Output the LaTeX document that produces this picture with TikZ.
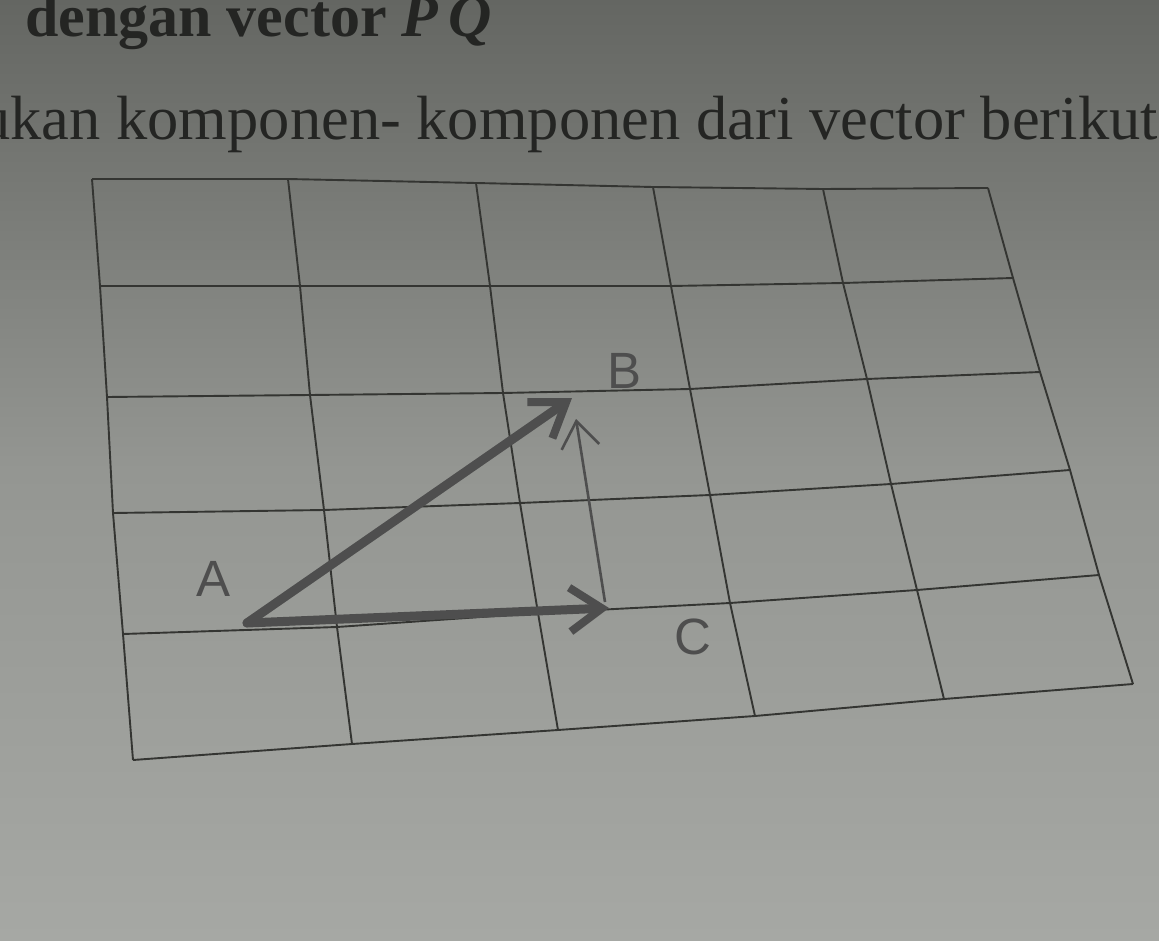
\documentclass[tikz,border=0pt]{standalone}
\usepackage{fontspec}
\setmainfont{Liberation Serif}
\newfontfamily\labelfont{Liberation Sans}
\DeclareMathSizes{60}{60}{44}{34}
\usetikzlibrary{arrows.meta}
\definecolor{paperTop}{RGB}{100,102,98}
\definecolor{paperMid}{RGB}{148,150,146}
\definecolor{paperBot}{RGB}{166,168,164}
\definecolor{ink}{RGB}{36,37,35}
\definecolor{gridink}{RGB}{52,53,50}
\definecolor{vecink}{RGB}{78,78,78}
\tikzset{
  gridline/.style={draw=gridink, line width=1.9pt, line join=round},
  thickvec/.style={draw=vecink, line width=9pt, line cap=round,
    -{Straight Barb[length=32pt,width=44pt,line width=8pt]}},
  thinvec/.style={draw=vecink, line width=2.6pt,
    -{Straight Barb[length=26pt,width=38pt,line width=2.6pt]}},
  ptlabel/.style={font=\labelfont\fontsize{51}{51}\selectfont, text=vecink, inner sep=0pt},
  headone/.style={font=\bfseries\fontsize{60}{60}\selectfont, text=ink, inner sep=0pt},
  headtwo/.style={font=\fontsize{62.5}{62.5}\selectfont, text=ink, inner sep=0pt}
}
\begin{document}
\begin{tikzpicture}[x=1pt,y=-1pt]
\useasboundingbox (0,0) rectangle (1159,941);
\shade[top color=paperTop, bottom color=paperBot, middle color=paperMid] (0,0) rectangle (1159,941);

% header text
\node[headone, anchor=base west] (t1) at (25,37) {dengan vector \textit{P}\,$\overrightarrow{\textit{Q}}$};
\node[headtwo, anchor=base east] (t2) at (1158,140) {ukan komponen- komponen dari vector berikut};

% lattice points p-row-col
\coordinate (p-0-0) at (92,179);  \coordinate (p-0-1) at (288,179); \coordinate (p-0-2) at (476,183);
\coordinate (p-0-3) at (653,187); \coordinate (p-0-4) at (823,189); \coordinate (p-0-5) at (988,188);
\coordinate (p-1-0) at (100,286); \coordinate (p-1-1) at (300,286); \coordinate (p-1-2) at (490,286);
\coordinate (p-1-3) at (671,286); \coordinate (p-1-4) at (843,283); \coordinate (p-1-5) at (1013,278);
\coordinate (p-2-0) at (107,397); \coordinate (p-2-1) at (310,395); \coordinate (p-2-2) at (503,393);
\coordinate (p-2-3) at (690,389); \coordinate (p-2-4) at (867,379); \coordinate (p-2-5) at (1040,372);
\coordinate (p-3-0) at (113,513); \coordinate (p-3-1) at (324,510); \coordinate (p-3-2) at (520,503);
\coordinate (p-3-3) at (710,495); \coordinate (p-3-4) at (891,484); \coordinate (p-3-5) at (1070,470);
\coordinate (p-4-0) at (123,634); \coordinate (p-4-1) at (337,627); \coordinate (p-4-2) at (538,613);
\coordinate (p-4-3) at (730,603); \coordinate (p-4-4) at (917,590); \coordinate (p-4-5) at (1099,575);
\coordinate (p-5-0) at (133,760); \coordinate (p-5-1) at (352,744); \coordinate (p-5-2) at (558,730);
\coordinate (p-5-3) at (755,716); \coordinate (p-5-4) at (944,699); \coordinate (p-5-5) at (1133,684);

% rows
\foreach \r in {0,...,5}{
  \draw[gridline] (p-\r-0) -- (p-\r-1) -- (p-\r-2) -- (p-\r-3) -- (p-\r-4) -- (p-\r-5);
}
% columns
\foreach \c in {0,...,5}{
  \draw[gridline] (p-0-\c) -- (p-1-\c) -- (p-2-\c) -- (p-3-\c) -- (p-4-\c) -- (p-5-\c);
}

% vectors
\coordinate (A) at (247,623);
\coordinate (B) at (572,398);
\coordinate (C) at (609,608);
\coordinate (Cv) at (605,602);
\coordinate (Bv) at (576,419);
\draw[thickvec] (A) -- (B);
\draw[thickvec] (A) -- (C);
\draw[thinvec] (Cv) -- (Bv);

% labels
\node[ptlabel] (lA) at (214,579) {A};
\node[ptlabel] (lB) at (625,371) {B};
\node[ptlabel] (lC) at (693,637) {C};
\end{tikzpicture}
\end{document}
